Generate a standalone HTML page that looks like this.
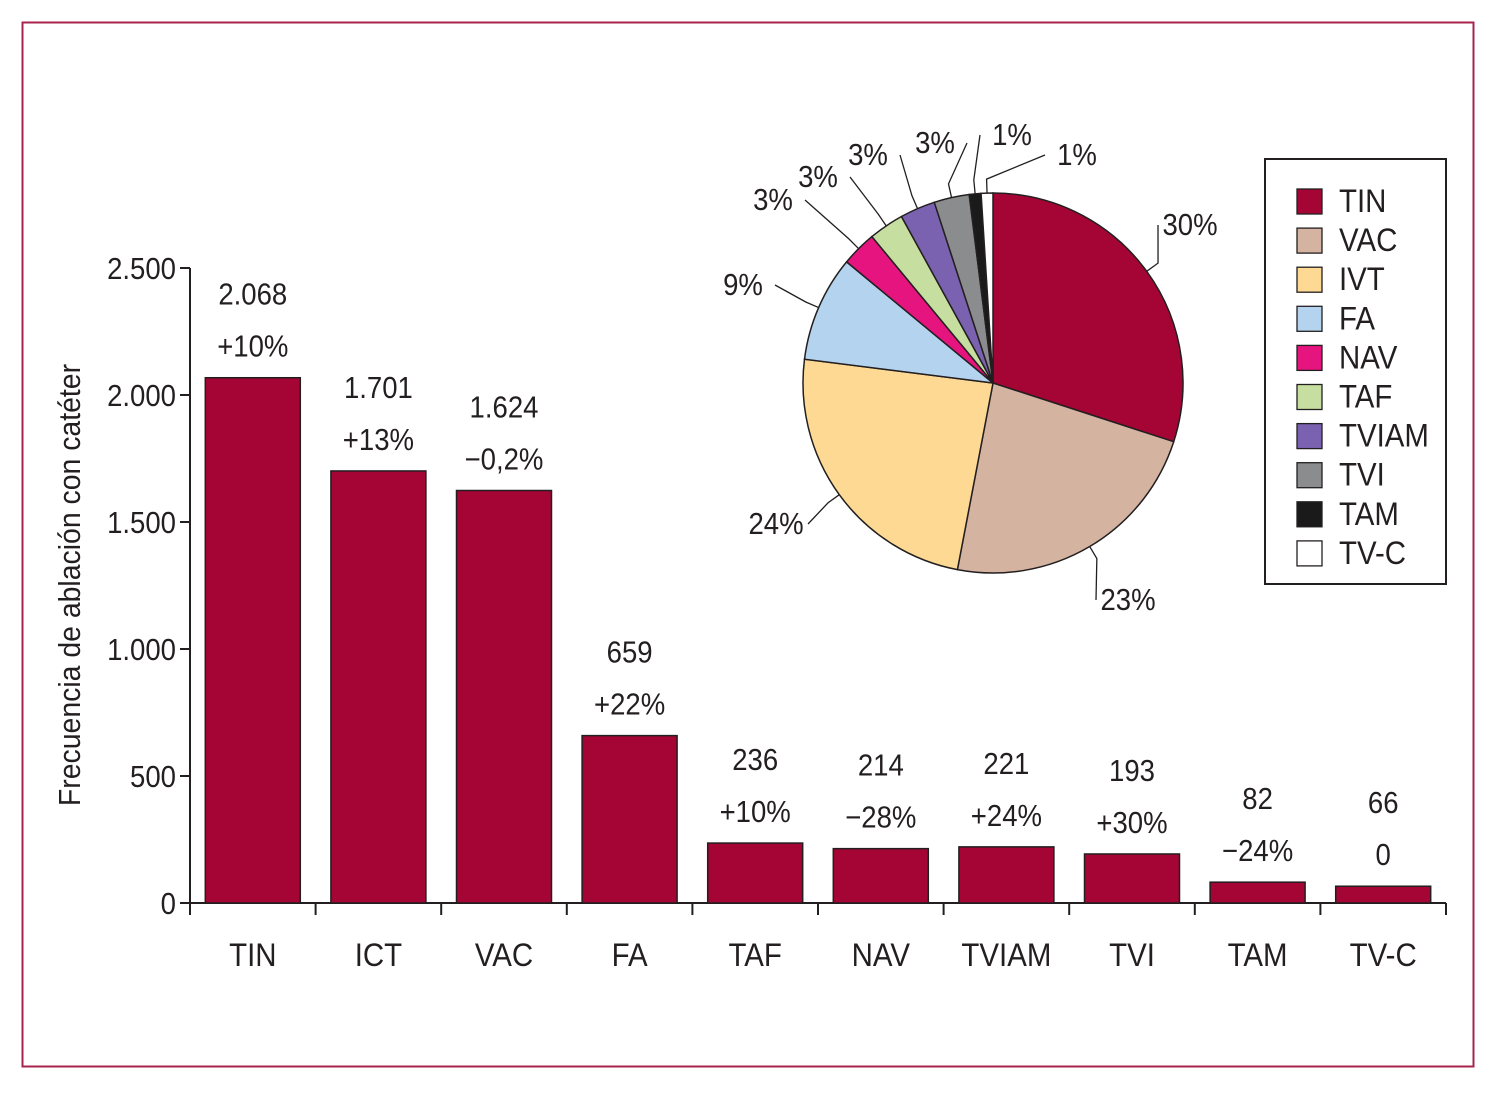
<!DOCTYPE html>
<html><head><meta charset="utf-8"><style>
body{margin:0;background:#fff}
svg text{font-family:"Liberation Sans Narrow","Liberation Sans",sans-serif;fill:#231f20}
</style></head><body>
<svg id="c" width="1500" height="1095" xmlns="http://www.w3.org/2000/svg">
<rect x="22.5" y="22.5" width="1451" height="1044" fill="none" stroke="#a8244f" stroke-width="2"/>
<text transform="translate(80,585) rotate(-90) scale(0.98,1.05)" text-anchor="middle" font-size="29">Frecuencia de ablación con catéter</text>
<g id="bars"></g><g id="pie"></g><g id="legend"></g>
</svg>
<script>
const categories=["TIN","ICT","VAC","FA","TAF","NAV","TVIAM","TVI","TAM","TV-C"];
const values=[2068,1701,1624,659,236,214,221,193,82,66];
const valueLabels=["2.068","1.701","1.624","659","236","214","221","193","82","66"];
const changeLabels=["+10%","+13%","−0,2%","+22%","+10%","−28%","+24%","+30%","−24%","0"];
const yTicks=[0,500,1000,1500,2000,2500];
const yTickLabels=["0","500","1.000","1.500","2.000","2.500"];
const pieNames=["TIN","VAC","IVT","FA","NAV","TAF","TVIAM","TVI","TAM","TV-C"];
const pieValues=[30,23,24,9,3,3,3,3,1,1];
const pieLabels=["30%","23%","24%","9%","3%","3%","3%","3%","1%","1%"];
const pieColors=["#a50534","#d4b3a0","#fdd993","#b3d3ee","#e6147e","#c6dea0","#7b62b0","#8a8c8e","#1a1a1a","#ffffff"];
const legendNames=["TIN","VAC","IVT","FA","NAV","TAF","TVIAM","TVI","TAM","TV-C"];
const NS="http://www.w3.org/2000/svg";
function mk(p,t,a){const e=document.createElementNS(NS,t);for(const k in a)e.setAttribute(k,a[k]);p.appendChild(e);return e;}
function txt(p,x,y,s,fs,anchor){const e=mk(p,'text',{transform:`translate(${x},${y}) scale(0.95,1.05)`,'text-anchor':anchor||'middle','font-size':fs});e.textContent=s;return e;}
const x0=190,x1=1446,y0=903,yTop=268,yMax=2500;
const Y=v=>y0-(v/yMax)*(y0-yTop);
const step=(x1-x0)/categories.length;
const X=i=>x0+step*(i+0.5);
const bars=document.getElementById('bars');
let ax=mk(bars,'line',{x1:x0,y1:yTop,x2:x0,y2:y0,stroke:'#231f20','stroke-width':2});

let bx=mk(bars,'line',{x1:x0-10,y1:y0,x2:x1,y2:y0,stroke:'#231f20','stroke-width':2});

yTicks.forEach((v,i)=>{
 let t=mk(bars,'line',{x1:x0-10,y1:Y(v),x2:x0,y2:Y(v),stroke:'#231f20','stroke-width':2});
 
 let l=txt(bars,x0-14,Y(v)+11,yTickLabels[i],29,'end');
 
});
for(let i=0;i<=categories.length;i++){
 let t=mk(bars,'line',{x1:x0+step*i,y1:y0,x2:x0+step*i,y2:y0+12,stroke:'#231f20','stroke-width':2});
 
}
categories.forEach((c,i)=>{
 const cx=X(i),bw=95;
 let r=mk(bars,'rect',{x:cx-bw/2,y:Y(values[i]),width:bw,height:y0-Y(values[i]),fill:'#a50534',stroke:'#231f20','stroke-width':1.5});
 
 let a=txt(bars,cx,Y(values[i])-73,valueLabels[i],29);
 
 let b=txt(bars,cx,Y(values[i])-21,changeLabels[i],29);
 
 let l=txt(bars,cx,966,c,31);
 
});
const pie=document.getElementById('pie');
const pcx=993,pcy=383,R=190;
const tot=pieValues.reduce((a,b)=>a+b,0);
let ang=0;
const P=(a,r)=>[pcx+r*Math.sin(a),pcy-r*Math.cos(a)];
const labelPos=[[1190,225],[1128,600],[776,524],[743,285],[773,200],[818,177],[868,155],[935,143],[1012,135],[1077,155]];
pieValues.forEach((v,i)=>{
 const a0=ang,a1=ang+v/tot*2*Math.PI;ang=a1;
 const p0=P(a0,R),p1=P(a1,R);
 let s=mk(pie,'path',{d:`M${pcx},${pcy}L${p0[0]},${p0[1]}A${R},${R} 0 ${a1-a0>Math.PI?1:0} 1 ${p1[0]},${p1[1]}Z`,fill:pieColors[i],stroke:'#231f20','stroke-width':1.5});
 
 const m=(a0+a1)/2,e=P(m,R),f=P(m,R+14);
 const lp=labelPos[i];
 const right=lp[0]>f[0];
 const tx=lp[0]+(right?-32:32);
 let ln=mk(pie,'polyline',{points:`${e[0]},${e[1]} ${f[0]},${f[1]} ${tx},${lp[1]}`,fill:'none',stroke:'#231f20','stroke-width':1.3});
 
 let t=txt(pie,lp[0],lp[1]+10,pieLabels[i],29);
 
});
const lg=document.getElementById('legend');
let lb=mk(lg,'rect',{x:1265,y:159,width:181,height:425,fill:'#fff',stroke:'#231f20','stroke-width':2});

legendNames.forEach((n,i)=>{
 const cy=201+i*39.1;
 let s=mk(lg,'rect',{x:1297,y:cy-12,width:25,height:25,fill:pieColors[i],stroke:'#231f20','stroke-width':1.3});
 
 let t=txt(lg,1339,cy+11,n,31,'start');
 
});
</script>
</body></html>
